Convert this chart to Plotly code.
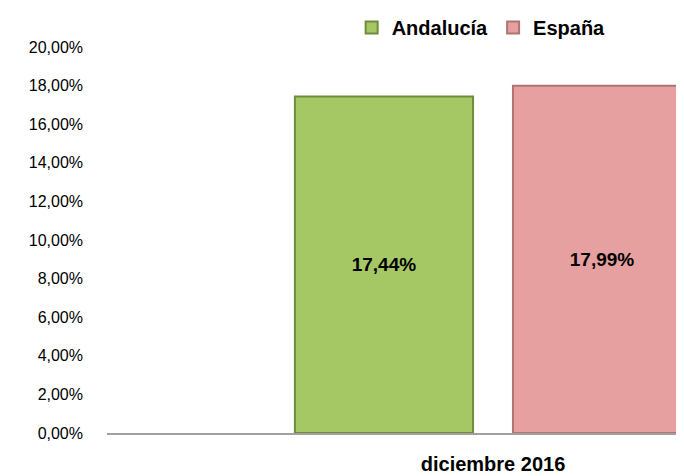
import plotly.graph_objects as go

categories = ["diciembre 2016"]
andalucia = [17.44]
espana = [17.99]
tick_vals = [0, 2, 4, 6, 8, 10, 12, 14, 16, 18, 20]
tick_text = [f"{v:.2f}".replace(".", ",") + "%" for v in tick_vals]

FONT = "Liberation Sans, Arial, sans-serif"

fig = go.Figure()
fig.add_trace(go.Bar(
    name="Andalucía", x=categories, y=andalucia,
    marker=dict(color="#A6C864", line=dict(color="#6F8C3C", width=2)),
    texttemplate="%{y:.2f}%", textposition="inside", insidetextanchor="middle",
    textfont=dict(family=FONT, size=19, color="#000000", weight="bold"),
))
fig.add_trace(go.Bar(
    name="España", x=categories, y=espana,
    marker=dict(color="#E6A09F", line=dict(color="#B07474", width=2)),
    texttemplate="%{y:.2f}%", textposition="inside", insidetextanchor="middle",
    textfont=dict(family=FONT, size=19, color="#000000", weight="bold"),
))

fig.update_layout(
    width=676, height=468,
    margin=dict(l=99, r=0, t=39, b=43),
    paper_bgcolor="white", plot_bgcolor="white",
    separators=",.",
    barmode="group", bargap=0.435, bargroupgap=0.183,
    font=dict(family=FONT, size=16, color="#000000"),
    showlegend=True,
    legend=dict(orientation="h", x=0.424, xanchor="left", y=1.101, yanchor="top",
                font=dict(family=FONT, size=20, color="#000000", weight="bold"),
                itemwidth=30, bgcolor="rgba(0,0,0,0)"),
    xaxis=dict(range=[-0.5, 0.2474], showgrid=False, showline=True,
               linecolor="#A0A0A0", linewidth=1.5, ticks="", automargin=False,
               tickfont=dict(family=FONT, size=20, weight="bold"),
               ticklabelstandoff=12),
    yaxis=dict(range=[0, 20], tickvals=tick_vals, ticktext=tick_text,
               showgrid=False, showline=False, zeroline=False, ticks="", automargin=False,
               ticklabelstandoff=23,
               tickfont=dict(family=FONT, size=16)),
)

fig.write_html("out.html")
